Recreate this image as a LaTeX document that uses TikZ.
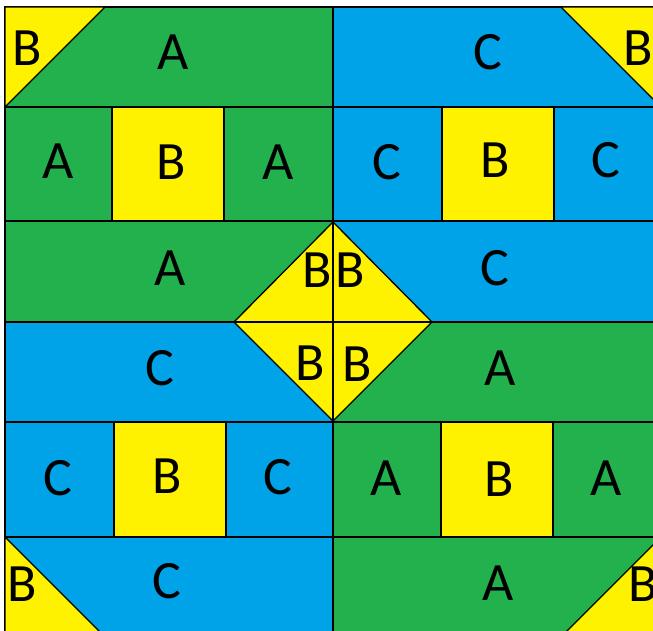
\documentclass[tikz,border=0pt]{standalone}
\usepackage{fontspec}
\setmainfont{Carlito}
\definecolor{qgreen}{HTML}{22B14C}
\definecolor{qblue}{HTML}{00A2E8}
\definecolor{qyellow}{HTML}{FFF200}
\tikzset{
  patch/.style={draw=black, line width=1.3pt, line join=miter},
  gp/.style={patch, fill=qgreen},
  bp/.style={patch, fill=qblue},
  yp/.style={patch, fill=qyellow},
  lbl/.style={inner sep=0pt, font=\fontsize{54}{54}\selectfont, text=black}
}
\begin{document}
\begin{tikzpicture}[x=1pt,y=-1pt]
\useasboundingbox (0,0) rectangle (653,631);
\fill[white] (0,0) rectangle (653,631);
\clip (0,0) rectangle (653,631);
% quadrants
\path[gp] (5,7) rectangle (333,322);
\path[bp] (333,7) rectangle (661,322);
\path[bp] (5,322) rectangle (333,637);
\path[gp] (333,322) rectangle (661,637);
% row lines
\path[gp] (5,7) rectangle (333,107);
\path[bp] (333,7) rectangle (661,107);
\path[gp] (5,107) rectangle (112,221);
\path[yp] (112,107) rectangle (224,221);
\path[gp] (224,107) rectangle (333,221);
\path[bp] (333,107) rectangle (442,221);
\path[yp] (442,107) rectangle (554,221);
\path[bp] (554,107) rectangle (661,221);
\path[bp] (5,422) rectangle (114,537);
\path[yp] (114,422) rectangle (226,537);
\path[bp] (226,422) rectangle (333,537);
\path[gp] (333,422) rectangle (441,537);
\path[yp] (441,422) rectangle (553,537);
\path[gp] (553,422) rectangle (661,537);
\path[bp] (5,537) rectangle (333,637);
\path[gp] (333,537) rectangle (661,637);
% corner triangles
\path[yp] (5,7) -- (105,7) -- (5,107) -- cycle;
\path[yp] (561,7) -- (661,7) -- (661,107) -- cycle;
\path[yp] (5,537) -- (5,637) -- (105,637) -- cycle;
\path[yp] (661,537) -- (661,637) -- (561,637) -- cycle;
% centre diamond
\path[yp] (333,222) -- (432,322) -- (333,421) -- (234,322) -- cycle;
\draw[patch] (333,7) -- (333,637);
\draw[patch] (5,322) -- (661,322);
% labels
\node[lbl] (b1) at (27,48) {B};
\node[lbl] (a1) at (173,52) {A};
\node[lbl] (c1) at (488,52) {C};
\node[lbl] (b2) at (638,48) {B};
\node[lbl] (a2) at (58,161) {A};
\node[lbl] (b3) at (171,162) {B};
\node[lbl] (a3) at (278,162) {A};
\node[lbl] (c2) at (387,162) {C};
\node[lbl] (b4) at (495,160) {B};
\node[lbl] (c3) at (606,160) {C};
\node[lbl] (a4) at (170,268) {A};
\node[lbl] (b5) at (317,270) {B};
\node[lbl] (b6) at (350,270) {B};
\node[lbl] (c4) at (495,268) {C};
\node[lbl] (c5) at (160,368) {C};
\node[lbl] (b7) at (310,363) {B};
\node[lbl] (b8) at (357,364) {B};
\node[lbl] (a5) at (500,368) {A};
\node[lbl] (c6) at (58,478) {C};
\node[lbl] (b9) at (167,476) {B};
\node[lbl] (c7) at (278,477) {C};
\node[lbl] (a6) at (386,478) {A};
\node[lbl] (b10) at (499,479) {B};
\node[lbl] (a7) at (606,478) {A};
\node[lbl] (b11) at (22,584) {B};
\node[lbl] (c8) at (167,581) {C};
\node[lbl] (a8) at (498,583) {A};
\node[lbl] (b12) at (643,584) {B};
\end{tikzpicture}
\end{document}
